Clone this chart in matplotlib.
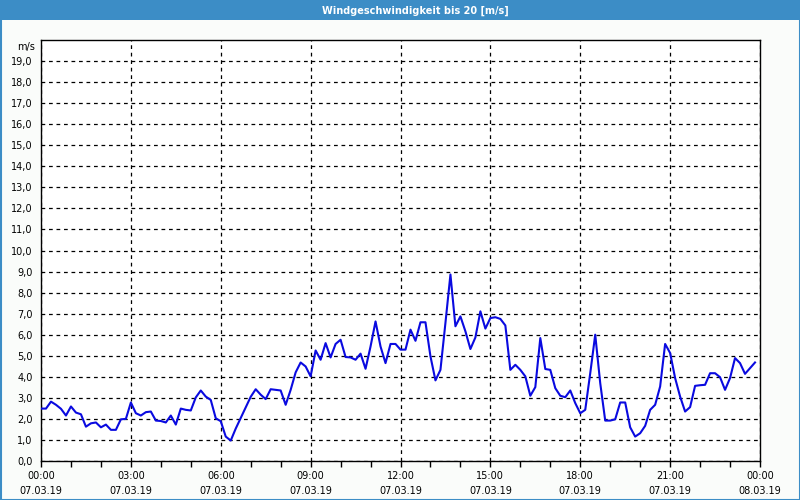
import matplotlib
matplotlib.use("Agg")
import matplotlib.pyplot as plt
import matplotlib.dates as mdates
import matplotlib.patches as mpatches
import pandas as pd

# ---- data ----
title = "Windgeschwindigkeit bis 20 [m/s]"
start = "2019-03-07 00:00"
end = "2019-03-08 00:00"
speed = [
    2.49, 2.49, 2.82, 2.67, 2.48, 2.16, 2.59, 2.30, 2.22, 1.63,
    1.79, 1.83, 1.60, 1.73, 1.48, 1.48, 1.98, 2.00, 2.78, 2.27,
    2.16, 2.32, 2.35, 1.92, 1.90, 1.83, 2.16, 1.73, 2.49, 2.43,
    2.40, 3.02, 3.35, 3.06, 2.90, 2.03, 1.89, 1.16, 0.97, 1.54,
    2.04, 2.54, 3.05, 3.41, 3.15, 2.94, 3.41, 3.38, 3.35, 2.67,
    3.38, 4.21, 4.68, 4.49, 4.02, 5.25, 4.81, 5.60, 4.92, 5.56,
    5.76, 4.94, 4.92, 4.81, 5.10, 4.38, 5.44, 6.63, 5.44, 4.65,
    5.56, 5.56, 5.29, 5.29, 6.24, 5.71, 6.59, 6.59, 4.97, 3.83,
    4.33, 6.56, 8.86, 6.40, 6.87, 6.16, 5.32, 5.87, 7.11, 6.29,
    6.79, 6.83, 6.75, 6.44, 4.33, 4.57, 4.33, 4.02, 3.10, 3.51,
    5.84, 4.37, 4.33, 3.46, 3.10, 3.03, 3.35, 2.75, 2.27, 2.43,
    4.17, 6.00, 3.70, 1.92, 1.92, 1.98, 2.78, 2.78, 1.60, 1.16,
    1.32, 1.67, 2.43, 2.67, 3.54, 5.56, 5.13, 3.94, 3.06, 2.35,
    2.56, 3.57, 3.60, 3.62, 4.17, 4.17, 3.98, 3.38, 3.94, 4.89,
    4.65, 4.14, 4.41, 4.68,
]
times = pd.date_range(start, periods=len(speed), freq="10min")
y_ticks = list(range(0, 20))
y_tick_labels = [f"{v},0" for v in y_ticks]
unit_label = "m/s"

# ---- style ----
blue_bar = "#3c8dc6"
plt.rcParams["font.family"] = ["DejaVu Sans"]
plt.rcParams["font.size"] = 7

fig = plt.figure(figsize=(8, 5), dpi=100, facecolor="#fafcfa")

# title bar and frame
fig.patches.append(mpatches.Rectangle((0, 1 - 20 / 500), 1, 20 / 500,
                                      transform=fig.transFigure, facecolor=blue_bar,
                                      edgecolor="none", zorder=0))
fig.patches.append(mpatches.Rectangle((0.5 / 800, 0.5 / 500), 799 / 800, 499 / 500,
                                      transform=fig.transFigure, facecolor="none",
                                      edgecolor=blue_bar, linewidth=1.5, zorder=1))
fig.text(415 / 800, 1 - 10.5 / 500, title, color="white", fontsize=7,
         fontweight="bold", ha="center", va="center")

ax = fig.add_axes([41 / 800, 39 / 500, 719 / 800, 421 / 500])
ax.set_facecolor("white")
ax.plot(times, speed, color="#0a0ae0", linewidth=1.5, zorder=3)

ax.set_xlim(pd.Timestamp(start), pd.Timestamp(end))
ax.set_ylim(0, 20)

ax.xaxis.set_major_locator(mdates.HourLocator(byhour=range(0, 24, 3)))
ax.xaxis.set_minor_locator(mdates.HourLocator())
ax.xaxis.set_major_formatter(mdates.DateFormatter("%H:%M\n%d.%m.%y"))
ax.tick_params(axis="x", which="both", direction="out", length=4, width=1,
               color="black", pad=3, labelsize=7)
for lbl in ax.get_xticklabels():
    lbl.set_linespacing(1.6)

ax.set_yticks(y_ticks)
ax.set_yticklabels(y_tick_labels)
ax.tick_params(axis="y", length=0, pad=6, labelsize=7)
ax.text(-6 / 719, 20 - 1.6 / 21 * 1, unit_label, transform=ax.get_yaxis_transform(),
        ha="right", va="top", fontsize=7)

ax.grid(True, which="major", axis="both", color="black", linestyle=(0, (3, 3)),
        linewidth=0.9)
ax.set_axisbelow(True)
for s in ax.spines.values():
    s.set_color("black")
    s.set_linewidth(1)

fig.savefig("out.png", dpi=100, facecolor=fig.get_facecolor())
